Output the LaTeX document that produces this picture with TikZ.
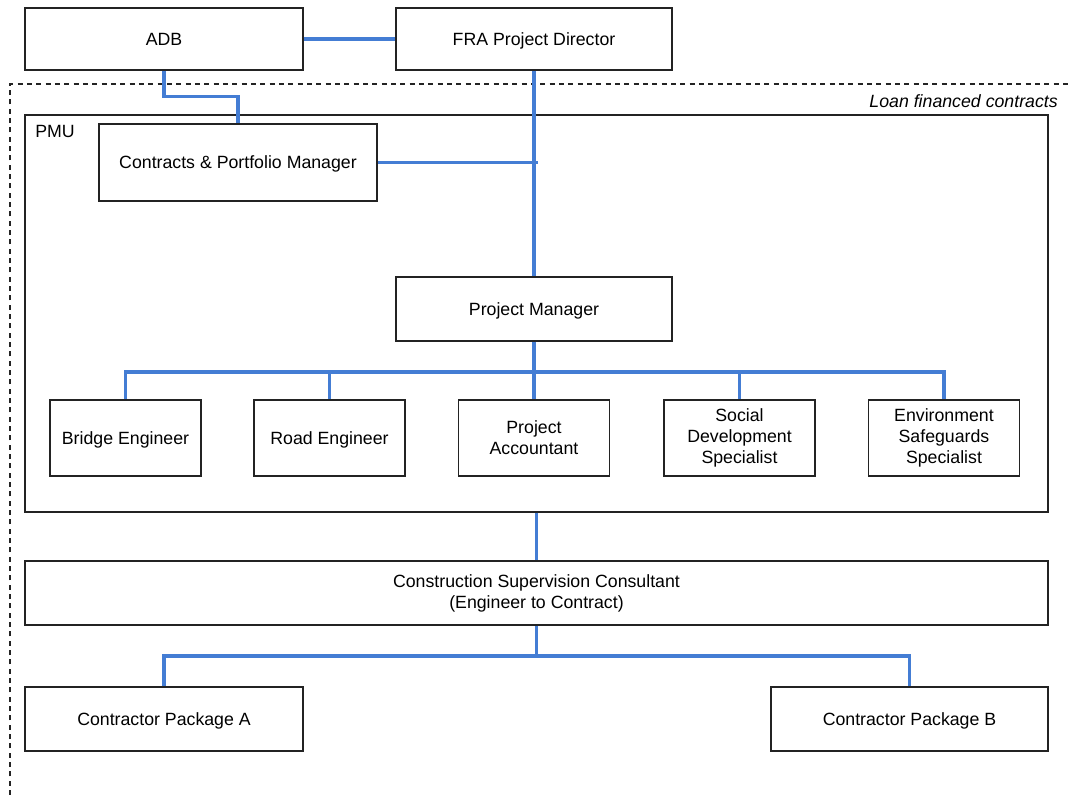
\documentclass[tikz,border=0pt]{standalone}
\usepackage{fontspec}
\setmainfont{Liberation Sans}
\definecolor{lnblue}{RGB}{68,125,212}
\definecolor{bord}{RGB}{35,35,35}
\begin{document}
\begin{tikzpicture}[x=0.75pt,y=-0.75pt,
  box/.style={draw=bord, line width=1.1pt, fill=white, inner sep=0pt, align=center,
    font=\fontsize{13.3}{15.8}\selectfont},
  one/.style={text height=9.5pt, text depth=0pt},
  wide/.style={minimum width=208.5pt, minimum height=48pt},
  small/.style={minimum width=113.25pt, minimum height=57pt},
  link/.style={draw=lnblue, line width=2.3pt},
  lbl/.style={font=\fontsize{13.3}{15.8}\selectfont, inner sep=0pt}]
\useasboundingbox (0,0) rectangle (1068,795);
\coordinate (busA) at (0,372);
\coordinate (busB) at (0,656);
% dashed region
\draw[bord, line width=0.9pt, dash pattern=on 3.8pt off 3.2pt] (10,795) -- (10,84) -- (1068,84);
\node[lbl, anchor=east, font=\fontsize{13.3}{15.8}\selectfont\itshape] (loan) at (1058,101) {Loan financed contracts};
% PMU
\node[box, minimum width=767.25pt, minimum height=297.75pt] (pmu) at (536.5,313.5) {};
\node[lbl, anchor=west] (pmulbl) at (35,131) {PMU};
% boxes
\node[box, one, wide, minimum height=46.5pt] (adb) at (164,39) {ADB};
\node[box, one, wide, minimum width=207pt, minimum height=46.5pt] (fra) at (534,39) {FRA Project Director};
\node[box, one, wide, minimum height=57.75pt] (cpm) at (238,162.5) {Contracts \& Portfolio Manager};
\node[box, one, wide, minimum width=207pt] (pm) at (534,309) {Project Manager};
\node[box, one, small] (be) at (125.5,438) {Bridge Engineer};
\node[box, one, small] (re) at (329.5,438) {Road Engineer};
\node[box, small] (pa) at (534,438) {Project\\Accountant};
\node[box, small] (sd) at (739.5,438) {Social\\Development\\Specialist};
\node[box, small] (es) at (944,438) {Environment\\Safeguards\\Specialist};
\node[box, minimum width=767.25pt, minimum height=48pt] (csc) at (536.5,593) {Construction Supervision Consultant\\(Engineer to Contract)};
\node[box, one, wide] (ca) at (164,719) {Contractor Package A};
\node[box, one, wide, minimum width=207.75pt] (cb) at (909.5,719) {Contractor Package B};
% connectors
\draw[link] (adb.east) -- (fra.west);
\draw[link] (adb.south) -- ++(0,26) -| (cpm.north);
\draw[link] (fra.south) -- (pm.north);
\draw[link] (cpm.east) -- ([xshift=3pt]cpm.east -| fra.south);
\draw[link] (pm.south) -- (pa.north);
\draw[link] (be.north) -- (be.north |- busA) -- (es.north |- busA) -- (es.north);
\draw[link] (re.north) -- (re.north |- busA);
\draw[link] (sd.north) -- (sd.north |- busA);
\draw[link] (pmu.south) -- (csc.north);
\draw[link] (csc.south) -- (csc.south |- busB);
\draw[link] (ca.north) -- (ca.north |- busB) -- (cb.north |- busB) -- (cb.north);
\end{tikzpicture}
\end{document}
